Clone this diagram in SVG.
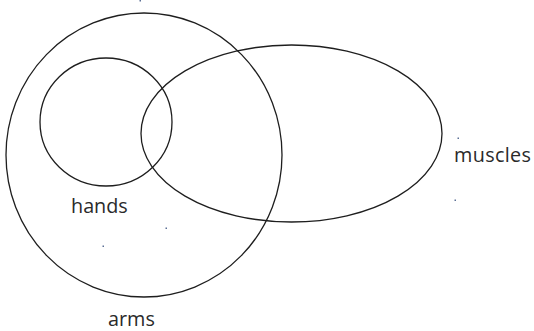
<svg xmlns="http://www.w3.org/2000/svg" width="534" height="331" viewBox="0 0 534 331">
<style>
.set{fill:none;stroke:#1e1e1e;stroke-width:1.3}
.lbl{font-family:"Open Sans","Noto Sans",sans-serif;font-size:19.8px;fill:#2a2a2a}
.dot{fill:#5b6f95}
</style>
<rect width="534" height="331" fill="#ffffff"/>
<g id="arms">
<ellipse class="set" cx="144" cy="155" rx="138" ry="142"/>
<text class="lbl" x="108" y="326">arms</text>
</g>
<g id="hands">
<ellipse class="set" cx="106" cy="122" rx="66" ry="64"/>
<text class="lbl" x="71" y="213">hands</text>
</g>
<g id="muscles">
<ellipse class="set" cx="291.5" cy="133.5" rx="150.5" ry="88.5"/>
<text class="lbl" x="454" y="162" textLength="77" lengthAdjust="spacing">muscles</text>
</g>
<g id="connectors"></g>
<g id="marks">
<rect class="dot" x="139.5" y="0" width="1.5" height="1.5"/>
<rect class="dot" x="457.5" y="137.5" width="1.5" height="1.5"/>
<rect class="dot" x="454.5" y="199.5" width="1.5" height="1.5"/>
<rect class="dot" x="165.5" y="227.5" width="1.5" height="1.5"/>
<rect class="dot" x="102.5" y="245.5" width="1.5" height="1.5"/>
</g>
</svg>
